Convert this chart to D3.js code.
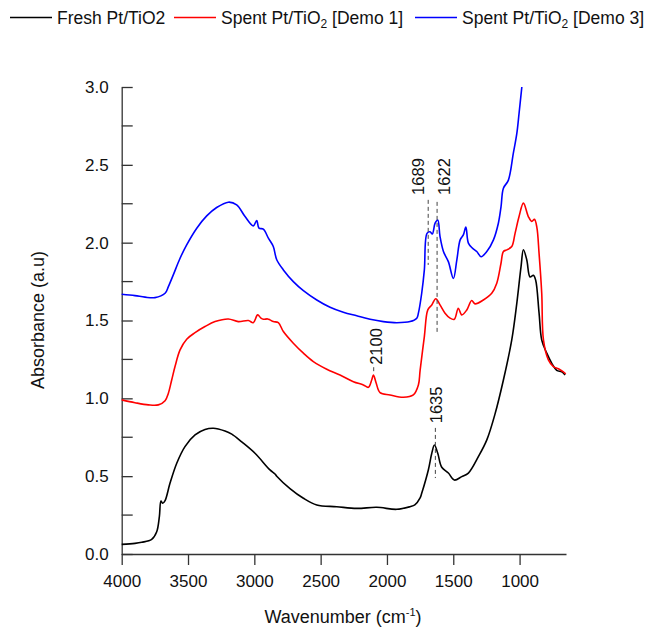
<!doctype html>
<html lang="en">
<head>
  <meta charset="utf-8">
  <script src="https://cdnjs.cloudflare.com/ajax/libs/d3/7.8.5/d3.min.js"></script>
  <style>
    html, body {margin:0px; padding:0px; background:#fff;}
    svg text {font-family: "Liberation Sans", Arial, sans-serif; fill:#111;}
  </style>
</head>
<body>
<div id="chart"></div>
<script>
// wavenumber (cm-1) / absorbance
var freshWn = [4000,3900,3849,3774,3736,3716,3704,3691,3673,3636,3585,3523,3447,3372,3309,3221,3170,3095,2995,2882,2844,2831,2731,2630,2529,2379,2228,2077,1926,1826,1790,1750,1738,1688,1662,1642,1617,1587,1537,1492,1436,1386,1311,1247,1185,1122,1059,1021,989,971,946,921,896,879,853,833,795,757,720,682,657];
var freshAbs = [0.062,0.068,0.075,0.094,0.143,0.24,0.34,0.326,0.343,0.454,0.583,0.69,0.765,0.80,0.808,0.79,0.77,0.72,0.647,0.54,0.514,0.50,0.42,0.358,0.315,0.304,0.293,0.30,0.287,0.304,0.315,0.36,0.39,0.54,0.647,0.70,0.647,0.557,0.52,0.475,0.497,0.52,0.625,0.733,0.90,1.118,1.375,1.61,1.846,1.954,1.89,1.78,1.79,1.76,1.547,1.375,1.29,1.225,1.18,1.17,1.15];

var demo1Wn = [4000,3900,3799,3724,3673,3648,3623,3598,3560,3510,3447,3372,3296,3196,3121,3045,3008,2975,2950,2932,2900,2882,2857,2819,2781,2706,2630,2555,2454,2354,2253,2178,2140,2115,2102,2082,2052,1977,1876,1801,1763,1750,1718,1692,1662,1632,1600,1562,1524,1492,1462,1436,1398,1361,1336,1273,1210,1172,1140,1122,1096,1059,1034,1004,971,934,908,888,870,853,833,820,783,745,707,670,652];
var demo1Abs = [0.99,0.972,0.958,0.958,0.985,1.033,1.118,1.204,1.311,1.38,1.422,1.461,1.493,1.51,1.493,1.50,1.486,1.536,1.515,1.508,1.51,1.504,1.493,1.486,1.429,1.354,1.29,1.236,1.187,1.15,1.107,1.086,1.071,1.118,1.15,1.10,1.037,1.022,1.007,1.022,1.086,1.18,1.397,1.568,1.60,1.64,1.60,1.547,1.515,1.508,1.579,1.536,1.568,1.628,1.607,1.632,1.675,1.74,1.868,1.943,1.954,1.975,2.06,2.168,2.254,2.168,2.136,2.15,2.10,1.93,1.675,1.375,1.247,1.204,1.19,1.17,1.157];

var demo3Wn = [4000,3900,3824,3749,3673,3648,3611,3560,3510,3434,3359,3284,3196,3133,3070,3008,2982,2965,2932,2894,2857,2831,2781,2706,2630,2529,2429,2329,2228,2127,2027,1926,1826,1775,1763,1738,1718,1698,1675,1658,1637,1617,1600,1574,1537,1499,1473,1448,1424,1405,1386,1356,1323,1290,1247,1197,1160,1140,1122,1085,1047,1021,1004,983];
var demo3Abs = [1.669,1.66,1.65,1.647,1.675,1.718,1.793,1.90,1.986,2.093,2.172,2.226,2.26,2.243,2.168,2.108,2.142,2.093,2.087,2.029,1.975,1.89,1.825,1.75,1.692,1.632,1.585,1.553,1.53,1.508,1.493,1.486,1.493,1.515,1.547,1.675,1.825,2.06,2.07,2.056,2.125,2.146,2.04,1.943,1.878,1.77,1.89,2.018,2.05,2.10,1.997,1.965,1.943,1.91,1.943,2.018,2.125,2.23,2.35,2.40,2.575,2.70,2.83,3.00];

var xTicks = [4000,3500,3000,2500,2000,1500,1000];
var yTicks = [0,0.5,1.0,1.5,2.0,2.5,3.0];
var yMinor = [0.25,0.75,1.25,1.75,2.25,2.75];

// peak markers: wavenumber, dashed line from/to (absorbance), label start (absorbance)
var peakWn = [1689,1622,2100,1635];
var peakFrom = [2.275,2.262,1.20,0.81];
var peakTo = [1.857,1.427,1.163,0.488];
var peakLabelAt = [2.307,2.307,1.215,0.84];

var width = 655, height = 628;
var svg = d3.select('#chart').append('svg')
  .attr('width', width).attr('height', height);

var x = d3.scaleLinear().domain([4000, 650]).range([121.7, 566]);
var y = d3.scaleLinear().domain([0, 3]).range([554, 87]);

// axes
var xAxis = d3.axisBottom(x).tickValues(xTicks).tickFormat(d3.format('d'))
  .tickSize(11).tickSizeOuter(0).tickPadding(10);
var gx = svg.append('g').attr('transform', 'translate(0,' + y(0) + ')').call(xAxis);
gx.selectAll('text').style('font-size', '17px').attr('fill', '#111');

var yAxis = d3.axisLeft(y).tickValues(yTicks).tickFormat(d3.format('.1f'))
  .tickSize(-11).tickSizeOuter(0).tickPadding(13);
var gy = svg.append('g').attr('transform', 'translate(' + x(4000) + ',0)').call(yAxis);
gy.selectAll('text').style('font-size', '17px').attr('fill', '#111');
gy.selectAll('.minor').data(yMinor).enter().append('line')
  .attr('class', 'minor')
  .attr('x1', 0).attr('x2', 11)
  .attr('y1', function(d){return y(d);}).attr('y2', function(d){return y(d);});

svg.selectAll('.domain, .tick line, .minor')
  .attr('stroke', '#333').attr('stroke-width', 1.3);

// curves
var line = d3.line()
  .x(function(d){return x(d[0]);})
  .y(function(d){return y(d[1]);})
  .curve(d3.curveCatmullRom.alpha(0.5));

var series = [
  {wn: freshWn, abs: freshAbs, color: '#000000'},
  {wn: demo1Wn, abs: demo1Abs, color: '#ff0000'},
  {wn: demo3Wn, abs: demo3Abs, color: '#0000ff'}
];
series.forEach(function(s){
  svg.append('path')
    .datum(d3.zip(s.wn, s.abs))
    .attr('d', line)
    .attr('fill', 'none')
    .attr('stroke', s.color)
    .attr('stroke-width', 1.6)
    .attr('stroke-linejoin', 'round');
});

// peak annotations
var labelShift = [-3.8, 13, 8, 6.4];
peakWn.forEach(function(wn, i){
  svg.append('line')
    .attr('x1', x(wn)).attr('x2', x(wn))
    .attr('y1', y(peakFrom[i])).attr('y2', y(peakTo[i]))
    .attr('stroke', '#444').attr('stroke-width', 1)
    .attr('stroke-dasharray', '4,3');
  var lx = x(wn) + labelShift[i], ly = y(peakLabelAt[i]);
  svg.append('text')
    .attr('transform', 'translate(' + lx + ',' + ly + ') rotate(-90)')
    .style('font-size', '16.5px')
    .text(wn);
});

// axis titles
var xt = svg.append('text')
  .attr('x', 343).attr('y', 623)
  .attr('text-anchor', 'middle')
  .style('font-size', '18px');
xt.append('tspan').text('Wavenumber (cm');
xt.append('tspan').attr('dy', -7).style('font-size', '11px').text('-1');
xt.append('tspan').attr('dy', 7).text(')');

svg.append('text')
  .attr('transform', 'translate(44,320) rotate(-90)')
  .attr('text-anchor', 'middle')
  .style('font-size', '18px')
  .text('Absorbance (a.u)');

// legend
var legendX = [10, 174, 415];
var legendName = ['Fresh Pt/TiO2', 'Spent Pt/TiO', 'Spent Pt/TiO'];
var legendSub = ['', '2', '2'];
var legendTail = ['', ' [Demo 1]', ' [Demo 3]'];
series.forEach(function(s, i){
  svg.append('line')
    .attr('x1', legendX[i]).attr('x2', legendX[i] + 42)
    .attr('y1', 17.5).attr('y2', 17.5)
    .attr('stroke', s.color).attr('stroke-width', 1.6);
  var t = svg.append('text')
    .attr('x', legendX[i] + 47).attr('y', 24)
    .style('font-size', '17.5px');
  t.append('tspan').text(legendName[i]);
  if (legendSub[i]) {
    t.append('tspan').attr('dy', 4).style('font-size', '12px').text(legendSub[i]);
    t.append('tspan').attr('dy', -4).text(legendTail[i]);
  }
});
</script>
</body>
</html>
